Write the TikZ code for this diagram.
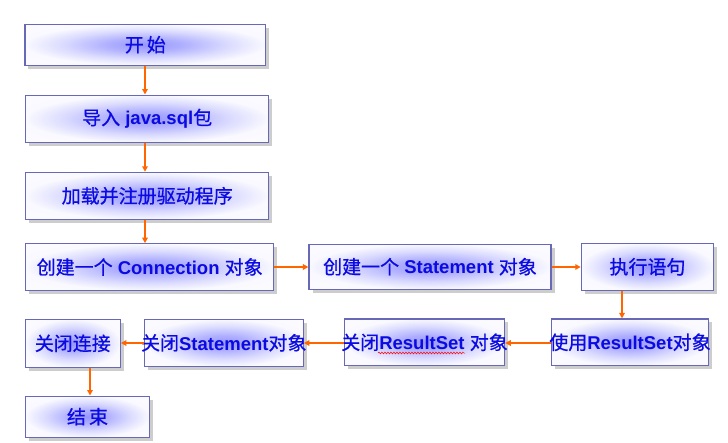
\documentclass[tikz,border=0pt]{standalone}
\usepackage{fontspec}
\setmainfont{Liberation Sans}
\newfontfamily\cjk[FakeBold=0.7]{Noto Sans CJK SC}
\usetikzlibrary{arrows.meta,shadows,decorations.pathmorphing}
\definecolor{boxline}{RGB}{104,104,184}
\definecolor{txtblue}{RGB}{10,10,225}
\definecolor{arrorange}{RGB}{255,102,0}
\definecolor{shadowgray}{RGB}{205,205,205}
\definecolor{glowc}{RGB}{150,150,255}
\pgfdeclareradialshading{boxglow}{\pgfpoint{0bp}{0bp}}{%
  color(0bp)=(glowc); color(8bp)=(glowc!75!white); color(17bp)=(glowc!35!white);
  color(25bp)=(glowc!6!white); color(50bp)=(white)}
\newcommand\zh[1]{{\cjk\fontsize{19}{21}\selectfont\mdseries #1}}
\tikzset{
  flowbox/.style={draw=boxline, line width=1.1pt, shading=boxglow, inner sep=0pt,
    drop shadow={shadow xshift=3.5pt, shadow yshift=-3.5pt, fill=shadowgray, opacity=1}},
  flowtext/.style={text=txtblue, font=\fontsize{18.5}{21}\selectfont\bfseries, inner sep=0pt},
  arr/.style={draw=arrorange, line width=1.8pt, -{Triangle[length=5.5pt,width=5.5pt]}},
}
\begin{document}
\begin{tikzpicture}[x=1pt,y=-1pt]
\useasboundingbox (0,0) rectangle (728,442);
% boxes
\node[flowbox, minimum width=240.7pt, minimum height=40.7pt] (b1) at (145.3,44.7) {};
\node[flowbox, minimum width=243pt, minimum height=47.3pt] (b2) at (147.2,118.7) {};
\node[flowbox, minimum width=243pt, minimum height=47pt] (b3) at (147.2,195.8) {};
\node[flowbox, minimum width=248pt, minimum height=46.6pt] (b4) at (149.7,267) {};
\node[flowbox, minimum width=242pt, minimum height=45.3pt] (b5) at (430,266.7) {};
\node[flowbox, minimum width=132.4pt, minimum height=47pt] (b6) at (647.5,266.8) {};
\node[flowbox, minimum width=157.4pt, minimum height=46.7pt] (b7) at (630,342.3) {};
\node[flowbox, minimum width=160.4pt, minimum height=46.7pt] (b8) at (424.5,342.3) {};
\node[flowbox, minimum width=159pt, minimum height=47pt] (b9) at (223.8,342.8) {};
\node[flowbox, minimum width=95pt, minimum height=48pt] (b10) at (72.8,343.3) {};
\node[flowbox, minimum width=123.6pt, minimum height=41.3pt] (b11) at (87.5,416.7) {};
% texts
\node[flowtext] (t1) at (b1) {\zh{开\hspace{3pt}始}};
\node[flowtext] (t2) at (b2) {\zh{导入} java.sql\zh{包}};
\node[flowtext] (t3) at (b3) {\zh{加载并注册驱动程序}};
\node[flowtext] (t4) at (b4) {\zh{创建一个} Connection \zh{对象}};
\node[flowtext] (t5) at (b5) {\zh{创建一个} Statement \zh{对象}};
\node[flowtext] (t6) at (b6) {\zh{执行语句}};
\node[flowtext] (t7) at (b7) {\zh{使用}ResultSet\zh{对象}};
\node[flowtext] (t8) at (b8) {\zh{关闭}ResultSet \zh{对象}};
\node[flowtext] (t9) at (b9) {\zh{关闭}Statement\zh{对象}};
\node[flowtext] (t10) at (b10) {\zh{关闭连接}};
\node[flowtext] (t11) at (b11) {\zh{结\hspace{3pt}束}};
% spell-check squiggle
\draw[red, line width=0.5pt, decorate, decoration={snake, amplitude=0.9pt, segment length=3pt}] (378,353) -- (465,353);
% guide coordinates
\coordinate (xa) at (145,0);
\coordinate (xb) at (622,0);
\coordinate (xc) at (90,0);
\coordinate (yr) at (0,267);
\coordinate (yl) at (0,343);
% connectors
\draw[arr] (b1.south -| xa) -- (b2.north -| xa);
\draw[arr] (b2.south -| xa) -- (b3.north -| xa);
\draw[arr] (b3.south -| xa) -- (b4.north -| xa);
\draw[arr] (b4.east |- yr) -- (b5.west |- yr);
\draw[arr] (b5.east |- yr) -- (b6.west |- yr);
\draw[arr] (b6.south -| xb) -- (b7.north -| xb);
\draw[arr] (b7.west |- yl) -- (b8.east |- yl);
\draw[arr] (b8.west |- yl) -- (b9.east |- yl);
\draw[arr] (b9.west |- yl) -- (b10.east |- yl);
\draw[arr] (b10.south -| xc) -- (b11.north -| xc);
\end{tikzpicture}
\end{document}
